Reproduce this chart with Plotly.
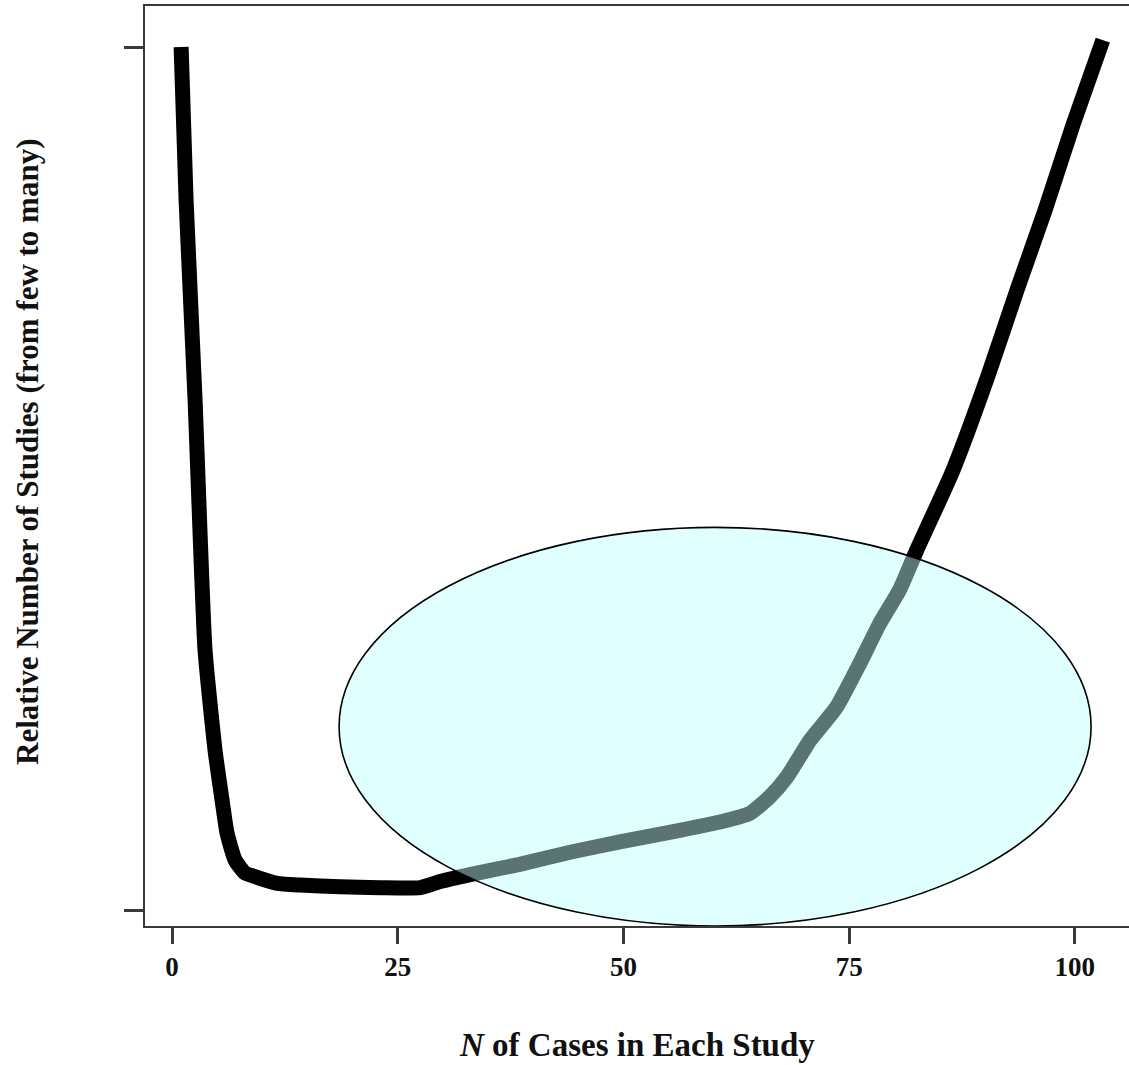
import plotly.graph_objects as go

# Data
n_cases = [1.0, 1.55, 2.55, 2.88, 3.65, 4.76, 5.54, 6.09, 6.98, 8.08, 9.41, 11.63,
           14.17, 18.6, 23.0, 27.5, 29.7, 33.0, 38.5, 44.1, 49.6, 55.1, 60.7, 64.0,
           66.2, 68.1, 70.7, 73.6, 76.2, 78.4, 80.6, 82.5, 86.5, 90.4, 93.6, 96.7,
           99.8, 103.1]
rel_studies = [1.0, 0.823, 0.591, 0.499, 0.302, 0.186, 0.128, 0.090, 0.059, 0.044, 0.039, 0.032,
               0.030, 0.028, 0.027, 0.027, 0.034, 0.042, 0.054, 0.068, 0.080, 0.091, 0.103, 0.113,
               0.132, 0.155, 0.198, 0.236, 0.287, 0.333, 0.372, 0.418, 0.510, 0.620, 0.719, 0.811,
               0.910, 1.008]

x_ticks = [0, 25, 50, 75, 100]
y_ticks = [0, 1]
x_range = [-3.0, 106.0]
y_range = [-0.0174, 1.0475]

# highlight ellipse (data coordinates)
ell_x0, ell_x1 = 18.5, 101.8
ell_y0, ell_y1 = -0.0174, 0.444

FONT = "Liberation Serif, Times New Roman, serif"
AX = "#3a3a3a"

fig = go.Figure()
fig.add_trace(go.Scatter(
    x=n_cases, y=rel_studies, mode="lines",
    line=dict(color="black", width=15, shape="spline", smoothing=0.5),
    hoverinfo="skip", showlegend=False,
))

fig.add_shape(type="circle", xref="x", yref="y", x0=ell_x0, x1=ell_x1, y0=ell_y0, y1=ell_y1,
              fillcolor="rgb(244,255,255)", line=dict(width=0), layer="below")
fig.add_shape(type="circle", xref="x", yref="y", x0=ell_x0, x1=ell_x1, y0=ell_y0, y1=ell_y1,
              fillcolor="rgba(200,255,255,0.45)", line=dict(color="black", width=1.6), layer="above")

fig.update_layout(
    width=1129, height=1065,
    margin=dict(l=145, r=0, t=6, b=139),
    paper_bgcolor="white", plot_bgcolor="white",
    font=dict(family=FONT, color="black", size=26),
    xaxis=dict(range=x_range, tickvals=x_ticks, ticktext=[f"<b>{v}</b>" for v in x_ticks],
               ticks="outside", ticklen=16, tickwidth=2.5,
               tickcolor=AX, showline=True, linecolor=AX, linewidth=2, mirror=True,
               showgrid=False, zeroline=False, ticklabelstandoff=0,
               tickfont=dict(family=FONT, size=27, color="#111")),
    yaxis=dict(range=y_range, tickvals=y_ticks, ticks="outside", ticklen=19, tickwidth=2.5,
               tickcolor=AX, showline=True, linecolor=AX, linewidth=2, mirror=False,
               showgrid=False, zeroline=False, showticklabels=False),
    annotations=[
        dict(text="<b><i>N</i> of Cases in Each Study</b>", xref="paper", yref="paper",
             x=0.5, y=(926 - 1045) / 920, xanchor="center", yanchor="middle", showarrow=False,
             font=dict(family=FONT, size=33, color="#111")),
        dict(text="<b>Relative Number of Studies (from few to many)</b>", xref="paper", yref="paper",
             x=(27 - 145) / 984, y=(926 - 452) / 920, xanchor="center", yanchor="middle",
             textangle=-90, showarrow=False,
             font=dict(family=FONT, size=31, color="#111")),
    ],
)

fig.write_html("out.html", config={"displayModeBar": False},
               post_script="document.body.style.margin='0';document.body.style.overflow='hidden';")
